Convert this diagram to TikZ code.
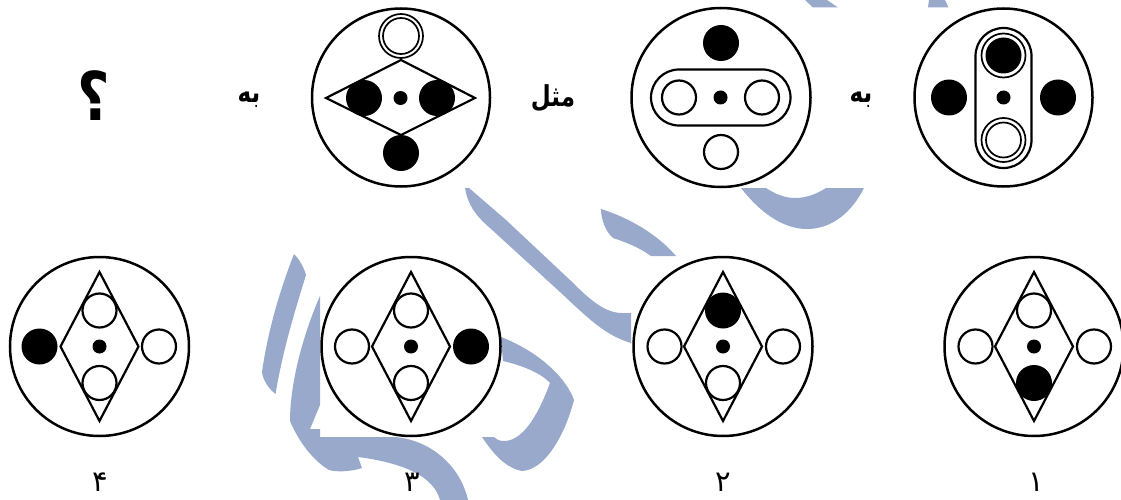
\documentclass[tikz,border=0pt]{standalone}
\usepackage{fontspec}
\usepackage{graphicx}
\newfontfamily\arabicfont[Script=Arabic]{DejaVu Sans}
\TeXXeTstate=1
\definecolor{wmblue}{HTML}{98A9CC}
\tikzset{
  ln/.style={draw=black,line width=2.2pt},
  thinring/.style={draw=black,line width=1.7pt},
  outer/.style={draw=black,line width=2.5pt,fill=white},
  wdisc/.style={draw=black,line width=2.2pt,fill=white},
  bdisc/.style={fill=black},
  mark wm/.style={fill=wmblue,draw=none},
  lbl/.style={inner sep=0pt,font=\arabicfont\bfseries\fontsize{23}{23}\selectfont},
  qlbl/.style={inner sep=0pt,font=\arabicfont\bfseries\fontsize{56}{56}\selectfont},
  num/.style={inner sep=0pt,font=\arabicfont\fontsize{29}{29}\selectfont},
}
\newcommand{\bdot}[3]{\fill[bdisc] (#1,#2) circle[radius=#3];}
\newcommand{\wdot}[3]{\draw[wdisc] (#1,#2) circle[radius=#3];}
\newcommand{\choicefig}[1]{%
  \draw[outer] (#1,346.5) circle[radius=89.5];
  \draw[ln,line join=miter] (#1-39,346.5)--(#1,272)--(#1+39,346.5)--(#1,421)--cycle;
  \bdot{#1}{346.5}{7}}
\begin{document}
\begin{tikzpicture}[x=1pt,y=-1pt]
\useasboundingbox[fill=white] (0,0) rectangle (1121,500);
% watermark
\fill[mark wm] (805,0)--(827,0)--(838,7.5)--(813,7.5)--cycle;
\fill[mark wm] (929,0)--(945,0)--(948.5,7.5)--(928,7.5)--cycle;
\fill[mark wm] (741,188) .. controls (762,215) and (785,229) .. (807,229)
  .. controls (832,229) and (852,212) .. (864,188) -- (826,188)
  .. controls (815,195) and (805,198) .. (795,198)
  .. controls (785,198) and (775,194) .. (766,188) -- cycle;
\fill[mark wm] (465,188)--(469,188)--(506,220)--(570,280)
  .. controls (590,300) and (605,313) .. (622,313) -- (631,313) -- (631,343)
  .. controls (605,335) and (590,320) .. (560,292) -- (490,228)
  .. controls (475,215) and (468,205) .. cycle;
\fill[mark wm] (601,209) .. controls (630,218) and (658,235) .. (676,256) -- (651,256)
  .. controls (640,248) and (628,243) .. (613,238)
  .. controls (606,232) and (601,220) .. cycle;
\fill[mark wm] (294,254) .. controls (300,260) and (304,268) .. (306,275)
  .. controls (292,320) and (282,355) .. (275.5,394)
  .. controls (268,388) and (263,380) .. (262,372)
  .. controls (268,330) and (280,290) .. cycle;
\fill[mark wm] (320,296) -- (320,405) -- (310,429) -- (320,429) -- (320,437) -- (395,437)
  .. controls (430,440) and (460,465) .. (468,500) -- (440,500)
  .. controls (436,485) and (420,465) .. (358,457)
  -- (362,468) .. controls (350,472) and (335,472) .. (329,470)
  .. controls (312,460) and (298,440) .. (290,421)
  .. controls (290,380) and (305,330) .. cycle;
\fill[mark wm] (501,337) .. controls (535,350) and (565,375) .. (574,400)
  .. controls (565,435) and (545,470) .. (522,471)
  .. controls (505,468) and (492,452) .. (482,437) -- (494,437)
  .. controls (498,441) and (502,441) .. (505,441)
  .. controls (525,440) and (540,410) .. (550,383)
  .. controls (540,372) and (520,365) .. (503,361) -- cycle;
% top figure 1
\draw[outer] (1003.5,97.5) circle[radius=89];
\bdot{949}{97.5}{18}
\bdot{1058}{97.5}{18}
\bdot{1003.5}{97.5}{7}
\draw[ln,rounded corners=28pt] (975.5,28) rectangle (1031.5,168);
\draw[thinring] (1003.5,55.5) circle[radius=22];
\bdot{1003.5}{55.5}{18}
\draw[thinring] (1003.5,140) circle[radius=22];
\draw[thinring] (1003.5,140) circle[radius=17.5];
\node[lbl] (be1) at (861,100) {\scalebox{1}[1.25]{\beginR به\endR}};
% top figure 2
\draw[outer] (721,97.5) circle[radius=89.5];
\bdot{721}{43}{18}
\wdot{721}{152}{17}
\draw[ln,rounded corners=28pt] (651,69.5) rectangle (790.5,125.5);
\wdot{679}{97.5}{17}
\wdot{762}{97.5}{17}
\bdot{720.5}{97.5}{7}
\node[lbl] (mesl) at (553,98) {\scalebox{1}[1.25]{\beginR مثل\endR}};
% top figure 3
\draw[outer] (401,97.5) circle[radius=89];
\draw[ln] (326,98)--(401,60)--(475,98)--(401,135)--cycle;
\bdot{364}{98}{18}
\bdot{437}{98}{18}
\bdot{400.5}{98}{7}
\bdot{401}{153}{18}
\draw[thinring,fill=white] (401,36) circle[radius=22];
\draw[thinring] (401,36) circle[radius=18];
\node[lbl] (be2) at (249,100) {\scalebox{1}[1.25]{\beginR به\endR}};
\node[qlbl] (qm) at (94,96) {\scalebox{1}[1.2]{\beginR ؟\endR}};
% choices
\choicefig{99.5}
\wdot{99.5}{310.5}{17}
\wdot{99.5}{383}{17}
\bdot{39.5}{346.5}{18}
\wdot{159}{346.5}{17}
\choicefig{411}
\wdot{411}{310.5}{17}
\wdot{411}{383}{17}
\wdot{352}{346.5}{17}
\bdot{471}{346.5}{18}
\choicefig{723}
\bdot{723}{310.5}{18}
\wdot{723}{383}{17}
\wdot{664.5}{346.5}{17}
\wdot{783}{346.5}{17}
\choicefig{1034}
\wdot{1034}{310.5}{17}
\bdot{1034}{383}{18}
\wdot{975.5}{346.5}{17}
\wdot{1094}{346.5}{17}
\node[num] (n4) at (100,482) {\beginR ۴\endR};
\node[num] (n3) at (412,482) {\beginR ۳\endR};
\node[num] (n2) at (723,482) {\beginR ۲\endR};
\node[num] (n1) at (1036,482) {\beginR ۱\endR};
\end{tikzpicture}
\end{document}
